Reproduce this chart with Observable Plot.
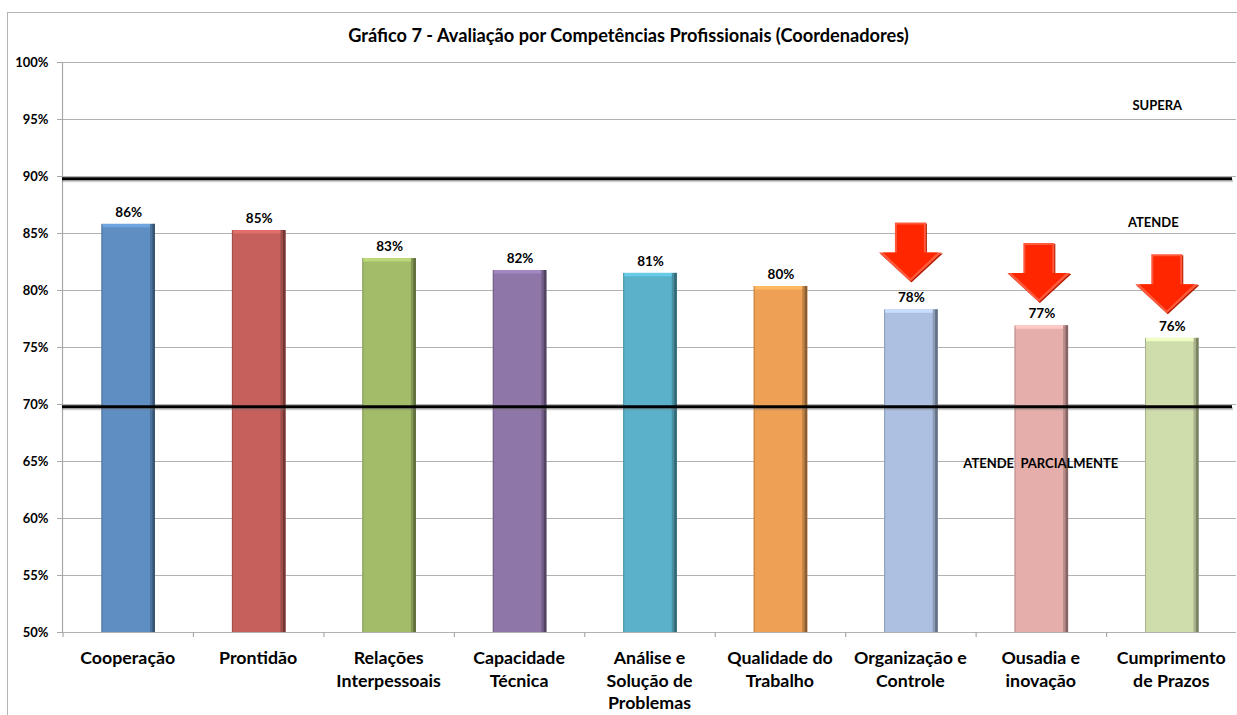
<!DOCTYPE html>
<html lang="pt">
<head>
<meta charset="utf-8">
<script src="https://cdn.jsdelivr.net/npm/d3@7"></script>
<script src="https://cdn.jsdelivr.net/npm/@observablehq/plot@0.6"></script>
<style>
html,body{margin:0;padding:0;background:#fff;}
#wrap{position:relative;width:1237px;height:715px;overflow:hidden;}
#box{position:absolute;left:7px;top:12px;width:1240px;height:720px;border:1.5px solid #b4b4b4;pointer-events:none;}
svg{display:block;}
</style>
</head>
<body>
<div id="wrap"><div id="box"></div></div>
<script>
const categories = ["Cooperação","Prontidão","Relações\nInterpessoais","Capacidade\nTécnica","Análise e\nSolução de\nProblemas","Qualidade do\nTrabalho","Organização e\nControle","Ousadia e\ninovação","Cumprimento\nde Prazos"];
const values = [85.8,85.26,82.8,81.75,81.5,80.35,78.3,76.9,75.8];
const valueLabels = ["86%","85%","83%","82%","81%","80%","78%","77%","76%"];
const barColors = ["#5f8fc2","#c5605c","#a3bc6a","#8e76a8","#5ab1c9","#eea055","#adc0e1","#e5aeab","#cfdcab"];
const yTicks = [50,55,60,65,70,75,80,85,90,95,100];
const thresholds = [89.8,69.8];
const zoneCategories = ["Cumprimento\nde Prazos","Cumprimento\nde Prazos","Ousadia e\ninovação"];
const zoneValues = [96.2,85.9,64.8];
const zoneLabels = ["SUPERA","ATENDE","ATENDE  PARCIALMENTE"];
const zoneOffsets = [-14,-18,0];
const arrowCategories = ["Organização e\nControle","Ousadia e\ninovação","Cumprimento\nde Prazos"];
const arrowTips = [80.8,79.0,78.0];
const arrowOffsets = [0,-2,-4.5];

const table = categories.map((c,i)=>({c,v:values[i],t:valueLabels[i],f:barColors[i],
  d1:d3.color(barColors[i]).darker(0.6).formatHex(),
  d2:d3.color(barColors[i]).darker(1.5).formatHex(),
  l:d3.color(barColors[i]).brighter(0.4).formatHex()}));
const zones = zoneLabels.map((t,i)=>({t,c:zoneCategories[i],v:zoneValues[i],dx:zoneOffsets[i]}));
const arrows = arrowCategories.map((c,i)=>({c,v:arrowTips[i],dx:arrowOffsets[i]}));

// Down arrow with its tip at the anchor point
const arrowShape = inset => ({draw(ctx){
  const i = inset;
  ctx.moveTo(0,-i*1.4);
  ctx.lineTo(-31.5+i*2,-29);
  ctx.lineTo(-15.5+i,-29);
  ctx.lineTo(-15.5+i,-59+i);
  ctx.lineTo(15.5-i,-59+i);
  ctx.lineTo(15.5-i,-29);
  ctx.lineTo(31.5-i*2,-29);
  ctx.closePath();
}});

const font = "Lato, Carlito, sans-serif";
const arrowLayer = (inset,fill,ox=0,oy=0) => arrows.map(a =>
  Plot.dot([a],{x:"c",y:"v",r:1,symbol:arrowShape(inset),fill,stroke:"none",dx:a.dx+ox,dy:oy}));

const chart = Plot.plot({
  width:1237,height:715,
  marginLeft:62,marginRight:1,marginTop:62,marginBottom:83,
  style:{fontFamily:font,background:"#fff",overflow:"visible"},
  x:{domain:categories,paddingInner:0.59,paddingOuter:0.295,align:0.5,round:false,label:null},
  y:{domain:[50,100],label:null},
  marks:[
    Plot.ruleY(yTicks,{stroke:"#b2b2b2",strokeWidth:1.2}),
    Plot.axisY({ticks:yTicks,tickFormat:d=>d+"%",tickSize:5,tickPadding:9,fontSize:13,fontWeight:"bold",fill:"#000",stroke:"#a8a8a8",label:null}),
    Plot.axisX({tickSize:0,tickPadding:15.5,fontSize:17.8,fontWeight:"bold",fill:"#000",lineHeight:1.27,lineWidth:30,tickFormat:d=>d,label:null,textAnchor:"middle"}),
    // category separators and axis lines
    Plot.ruleX(categories,{x:d=>d,y1:50,y2:50,insetBottom:-5,dx:-64.7,stroke:"#a8a8a8",strokeWidth:1.2}),
    Plot.ruleX(categories.slice(0,1),{x:d=>d,y1:50,y2:100,dx:-65.2,stroke:"#a8a8a8",strokeWidth:1.2}),
    // bevelled bars
    Plot.barY(table,{x:"c",y1:50,y2:"v",fill:"f",dx:1}),
    Plot.barY(table,{x:"c",y1:50,y2:"v",fill:"d1",insetLeft:48.5,dx:1}),
    Plot.barY(table,{x:"c",y1:50,y2:"v",fill:"d2",insetLeft:51,dx:1}),
    Plot.barY(table,{x:"c",y1:50,y2:"v",fill:"d1",insetRight:52.5,dx:1}),
    Plot.barY(table,{x:"c",y1:d=>d.v-0.3,y2:"v",fill:"l",insetLeft:1,insetRight:5,dx:1}),
    // thresholds with a soft shadow
    Plot.ruleY(thresholds,{stroke:"#777",strokeOpacity:0.35,strokeWidth:3,dy:2,insetRight:3}),
    Plot.ruleY(thresholds,{stroke:"#000",strokeWidth:3,insetRight:4}),
    // arrows
    ...arrowLayer(0,"#b11a00",1,1),
    ...arrowLayer(0,"#ff5a3c"),
    ...arrowLayer(2,"#ff2600"),
    // value labels
    Plot.text(table,{x:"c",y:"v",text:"t",dy:-12,dx:1,fontSize:13.5,fontWeight:"bold",fill:"#000"}),
    // zone labels
    ...zones.map(z=>Plot.text([z],{x:"c",y:"v",text:"t",dx:z.dx,fontSize:13,fontWeight:"bold",fill:"#000"})),
    // chart title
    Plot.text(["Gráfico 7 - Avaliação por Competências Profissionais (Coordenadores)"],{frameAnchor:"top",dy:-33,dx:-21,fontSize:18.2,fontWeight:"bold",fill:"#000"})
  ]
});
document.getElementById("wrap").prepend(chart);
</script>
</body>
</html>
